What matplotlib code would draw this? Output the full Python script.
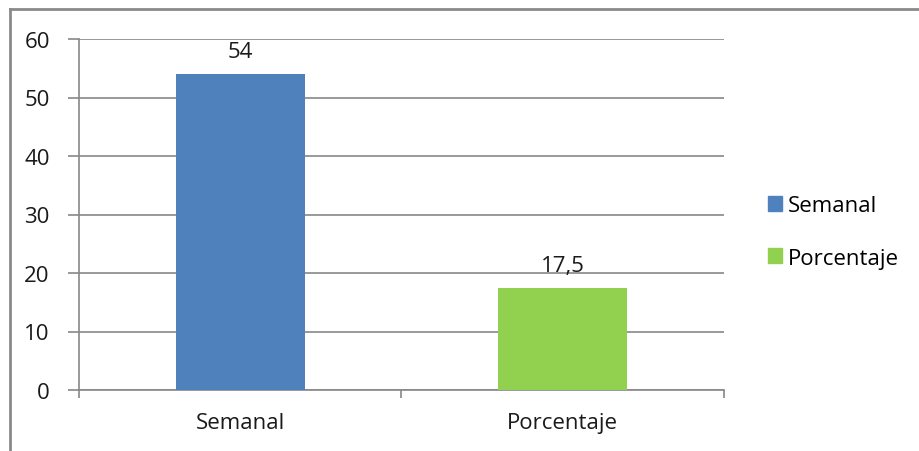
import numpy as np
import matplotlib
matplotlib.use("Agg")
from matplotlib import pyplot as plt
from matplotlib.lines import Line2D

categories = ["Semanal", "Porcentaje"]
values = [54, 17.5]
bar_colors = ["#4F81BD", "#92D050"]
yticks = [0, 10, 20, 30, 40, 50, 60]

plt.rcParams["font.family"] = ["Open Sans", "DejaVu Sans"]
grid_c = "#888888"
txt_c = "#1a1a1a"
fs = 16

fig = plt.figure(figsize=(9.2, 4.52), dpi=100)
ax = fig.add_axes([79/920, 1 - 391/452, (724-79)/920, (391-40)/452])

x = np.arange(len(categories))
ax.bar(x, values, width=0.4, color=bar_colors, zorder=3)
for xi, v in zip(x, values):
    lbl = f"{v:g}".replace(".", ",")
    ax.text(xi, v + 2.9, lbl, ha="center", va="baseline", fontsize=fs, color=txt_c)

ax.set_xlim(-0.5, 1.5)
ax.set_ylim(0, 60)
ax.set_yticks(yticks)
ax.yaxis.grid(True, color=grid_c, linewidth=1.2, zorder=0)
ax.set_xticks(x)
ax.set_xticklabels(categories, fontsize=fs, color=txt_c)
ax.set_xticks([-0.5, 0.5, 1.5], minor=True)
ax.tick_params(axis="x", which="major", length=0, pad=16)
ax.tick_params(axis="x", which="minor", length=6, color=grid_c, width=1.2)
ax.tick_params(axis="y", length=8, color=grid_c, width=1.2, labelsize=fs,
               labelcolor=txt_c, pad=13)
for s in ["top", "right"]:
    ax.spines[s].set_visible(False)
for s in ["left", "bottom"]:
    ax.spines[s].set_color(grid_c)
    ax.spines[s].set_linewidth(1.2)

handles = [plt.Rectangle((0, 0), 1, 1, color=c) for c in bar_colors]
fig.legend(handles, categories, loc="center left", bbox_to_anchor=(768/920, 1 - 233/452),
           frameon=False, fontsize=fs, handlelength=0.65, handleheight=0.65,
           handletextpad=0.25, labelspacing=1.4, borderpad=0, borderaxespad=0)

# outer chart border (left and top edges visible)
fig.add_artist(Line2D([10.5/920, 10.5/920], [0, 1 - 9.5/452], color="#8a8a8a",
                      linewidth=2, transform=fig.transFigure))
fig.add_artist(Line2D([10.5/920, 1], [1 - 9.5/452, 1 - 9.5/452], color="#8a8a8a",
                      linewidth=2, transform=fig.transFigure))

plt.savefig("out.png")
